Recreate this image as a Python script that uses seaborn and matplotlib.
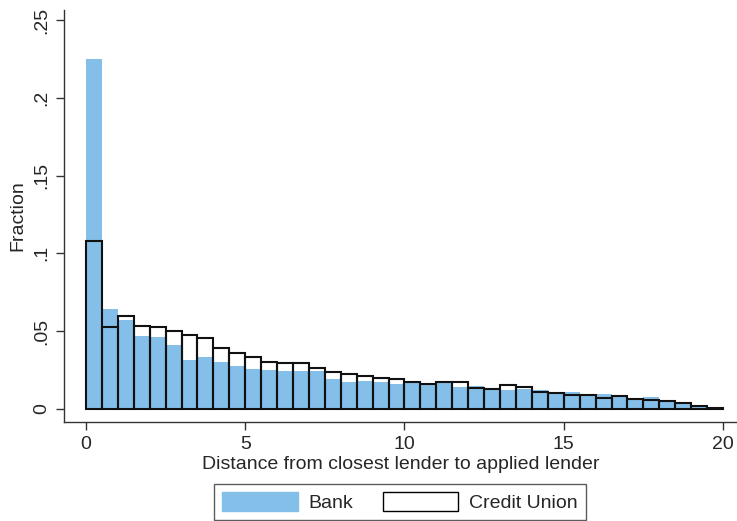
import numpy as np
import pandas as pd
import matplotlib
matplotlib.use("Agg")
import matplotlib.pyplot as plt
from matplotlib.patches import Patch
import seaborn as sns

# Bin layout: 40 bins of width 0.5 from 0 to 20
bin_left = [i * 0.5 for i in range(40)]

bank = [0.2249, 0.0640, 0.0569, 0.0468, 0.0461, 0.0410, 0.0313, 0.0335, 0.0300, 0.0273,
        0.0258, 0.0247, 0.0240, 0.0240, 0.0242, 0.0189, 0.0174, 0.0176, 0.0172, 0.0159,
        0.0175, 0.0162, 0.0164, 0.0142, 0.0144, 0.0126, 0.0118, 0.0128, 0.0120, 0.0105,
        0.0111, 0.0097, 0.0095, 0.0077, 0.0069, 0.0077, 0.0058, 0.0040, 0.0021, 0.0004]

credit_union = [0.1080, 0.0524, 0.0600, 0.0535, 0.0526, 0.0500, 0.0474, 0.0455, 0.0393, 0.0361,
                0.0331, 0.0303, 0.0292, 0.0292, 0.0262, 0.0234, 0.0221, 0.0213, 0.0200, 0.0189,
                0.0174, 0.0159, 0.0170, 0.0174, 0.0131, 0.0127, 0.0155, 0.0137, 0.0110, 0.0100,
                0.0086, 0.0088, 0.0071, 0.0081, 0.0062, 0.0054, 0.0047, 0.0036, 0.0017, 0.0005]

y_ticks = [0, 0.05, 0.1, 0.15, 0.2, 0.25]
y_tick_labels = ["0", ".05", ".1", ".15", ".2", ".25"]
x_ticks = [0, 5, 10, 15, 20]
x_tick_labels = ["0", "5", "10", "15", "20"]

sns.set_style("white")
plt.rcParams['font.family'] = ['Liberation Sans', 'DejaVu Sans']

BLUE = "#84BFE9"
FS = 14
W, H = 737, 521
fig = plt.figure(figsize=(W / 100, H / 100), dpi=100)
ax = fig.add_axes([64 / W, (H - 422) / H, (W - 64) / W, (422 - 10) / H])

df = pd.DataFrame({"mid": [b + 0.25 for b in bin_left], "bank": bank, "cu": credit_union})

sns.histplot(data=df, x="mid", weights="bank", binwidth=0.5, binrange=(0, 20), ax=ax,
             color=BLUE, alpha=1.0, edgecolor=BLUE, linewidth=0.0, element="bars")
sns.histplot(data=df, x="mid", weights="cu", binwidth=0.5, binrange=(0, 20), ax=ax,
             fill=False, color="#111111", linewidth=1.5, element="bars")

ax.set_xlim(-0.69, 20.44)
ax.set_ylim(-0.0085, 0.2565)

ax.set_yticks(y_ticks)
ax.set_yticklabels(y_tick_labels, rotation=90, va="center", fontsize=FS)
ax.set_xticks(x_ticks)
ax.set_xticklabels(x_tick_labels, fontsize=FS)
ax.tick_params(axis="both", direction="out", length=6, width=1, color="#333333",
               pad=4, left=True, bottom=True)

for s in ["top", "right"]:
    ax.spines[s].set_visible(False)
for s in ["left", "bottom"]:
    ax.spines[s].set_color("#333333")
    ax.spines[s].set_linewidth(1)

ax.set_xlabel("Distance from closest lender to applied lender", fontsize=FS, labelpad=2)
ax.set_ylabel("Fraction", fontsize=FS, labelpad=5)
ax.grid(False)

handles = [Patch(facecolor=BLUE, edgecolor=BLUE, label="Bank"),
           Patch(facecolor="white", edgecolor="black", linewidth=1.0, label="Credit Union")]
leg = fig.legend(handles=handles, loc="upper center", bbox_to_anchor=(400 / W, (H - 484) / H),
                 ncol=2, frameon=True, fontsize=FS, handlelength=3.9, handleheight=1.15,
                 columnspacing=1.5, handletextpad=0.55, borderpad=0.4, borderaxespad=0,
                 fancybox=False)
leg.get_frame().set_edgecolor("#333333")
leg.get_frame().set_linewidth(1)

fig.savefig("out.png", dpi=100)
